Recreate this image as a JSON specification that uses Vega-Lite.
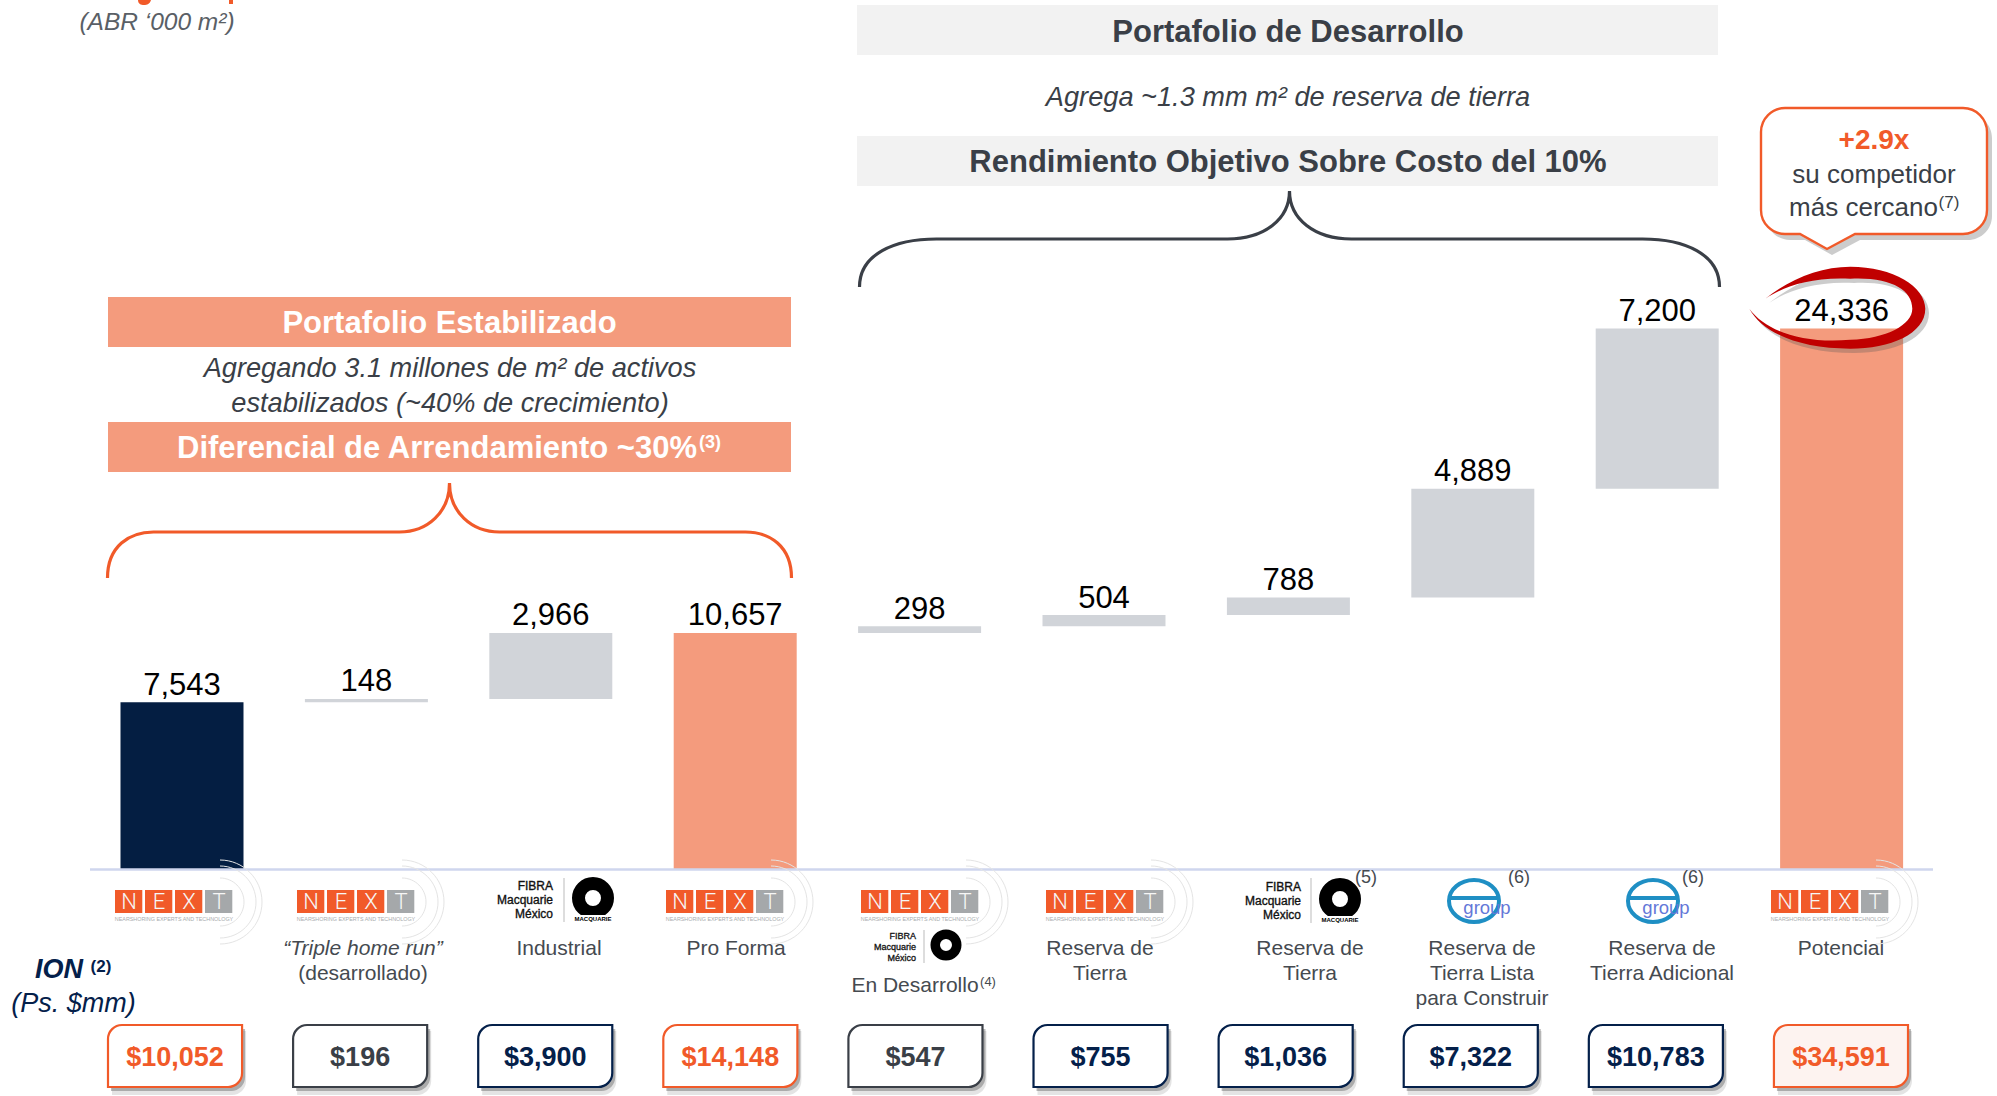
{"$schema":"https://vega.github.io/schema/vega-lite/v6.json","width":1997,"height":1096,"padding":0,"autosize":"none","background":"white",
"config":{"view":{"stroke":null},"axis":{"disable":true},"legend":{"disable":true},"text":{"font":"Liberation Sans","align":"center","baseline":"middle"},
"style":{"w31":{"color":"#ffffff","fontSize":31,"fontWeight":"bold"},"d31":{"color":"#3a3f47","fontSize":31,"fontWeight":"bold"},"i27":{"color":"#3a3f47","fontSize":27.2,"fontStyle":"italic"},"lab":{"color":"#454a50","fontSize":21,"lineHeight":25},"fn":{"color":"#454a50","fontSize":18},"L":{"color":"#f6f6f6","fontSize":22,"font":"Roboto","fontWeight":300},"ns":{"color":"#a8abad","fontSize":5.4},"fm":{"color":"#111111","fontSize":12,"align":"right","lineHeight":14,"stroke":"#111111","strokeWidth":0.35},"fs":{"color":"#111111","fontSize":9,"align":"right","lineHeight":11,"stroke":"#111111","strokeWidth":0.3},"mq":{"color":"#000000","fontSize":6,"fontWeight":"bold"},"gp":{"color":"#6478d8","fontSize":18.5},"ion":{"color":"#04204a","fontStyle":"italic"}}},
"datasets":{"rows":[
{"cat":"Estabilizado","kind":"total","value":7543,"base":0,"top":7543,"ion":10052,"tone":"a"},
{"cat":"Triple home run","kind":"step","value":148,"base":7543,"top":7691,"ion":196,"tone":"b"},
{"cat":"Industrial","kind":"step","value":2966,"base":7691,"top":10657,"ion":3900,"tone":"c"},
{"cat":"Pro Forma","kind":"sum","value":10657,"base":0,"top":10657,"ion":14148,"tone":"a"},
{"cat":"En Desarrollo","kind":"step","value":298,"base":10657,"top":10955,"ion":547,"tone":"b"},
{"cat":"Reserva de Tierra NEXT","kind":"step","value":504,"base":10955,"top":11459,"ion":755,"tone":"c"},
{"cat":"Reserva de Tierra FIBRA","kind":"step","value":788,"base":11459,"top":12247,"ion":1036,"tone":"c"},
{"cat":"Reserva de Tierra Lista para Construir","kind":"step","value":4889,"base":12247,"top":17136,"ion":7322,"tone":"c"},
{"cat":"Reserva de Tierra Adicional","kind":"step","value":7200,"base":17136,"top":24336,"ion":10783,"tone":"c"},
{"cat":"Potencial","kind":"sum","value":24336,"base":0,"top":24336,"ion":34591,"tone":"d"}]},
"resolve":{"scale":{"x":"independent","y":"independent","fill":"independent","color":"independent","stroke":"independent"}},
"layer":[
{"data":{"name":"rows"},"layer":[
{"mark":{"type":"bar"},"encoding":{"x":{"field":"cat","type":"nominal","sort":null,"scale":{"type":"band","range":[120.5,1903.1],"paddingInner":0.333,"paddingOuter":0}},"y":{"field":"top","type":"quantitative","scale":{"domain":[-10157,39101],"range":[1096,0],"nice":false}},"y2":{"field":"base"},"fill":{"field":"kind","type":"nominal","scale":{"domain":["total","step","sum"],"range":["#041e42","#d1d4d9","#f49b7d"]}}}},
{"mark":{"type":"text","fontSize":31,"dy":-16.5,"fill":"#000000"},"encoding":{"x":{"field":"cat","type":"nominal","sort":null},"y":{"field":"top","type":"quantitative"},"text":{"field":"value","type":"quantitative","format":",.0f"}}}
]},
{"data":{"name":"rows"},"layer":[
{"mark":{"type":"bar","fill":"#555555","opacity":0.16,"xOffset":4,"x2Offset":4,"cornerRadiusTopLeft":14,"cornerRadiusBottomRight":14},"encoding":{"x":{"field":"cat","type":"nominal","sort":null,"scale":{"type":"band","range":[108,1908],"paddingInner":0.2757,"paddingOuter":0}},"y":{"datum":1031,"scale":{"domain":[0,1096],"range":[0,1096],"nice":false}},"y2":{"datum":1095}}},
{"mark":{"type":"bar","fill":"#555555","opacity":0.4,"xOffset":3,"x2Offset":3,"cornerRadiusTopLeft":14,"cornerRadiusBottomRight":14},"encoding":{"x":{"field":"cat","type":"nominal","sort":null},"y":{"datum":1029},"y2":{"datum":1091}}},
{"mark":{"type":"bar","strokeWidth":2.2,"cornerRadiusTopLeft":14,"cornerRadiusBottomRight":14},"encoding":{"x":{"field":"cat","type":"nominal","sort":null},"y":{"datum":1025},"y2":{"datum":1087},"fill":{"field":"tone","type":"nominal","scale":{"domain":["a","b","c","d"],"range":["#ffffff","#ffffff","#ffffff","#fdf3f0"]}},"stroke":{"field":"tone","type":"nominal","scale":{"domain":["a","b","c","d"],"range":["#f15a29","#3a3f47","#04204a","#f15a29"]}}}},
{"mark":{"type":"text","fontSize":27,"fontWeight":"bold"},"encoding":{"x":{"field":"cat","type":"nominal","sort":null},"y":{"datum":1058},"text":{"field":"ion","type":"quantitative","format":"$,.0f"},"color":{"field":"tone","type":"nominal","scale":{"domain":["a","b","c","d"],"range":["#f15a29","#3a3f47","#04204a","#f15a29"]}}}}
]},
{"data":{"values":[{}]},"layer":[
{"mark":{"type":"rule","stroke":"#cfd6ee","strokeWidth":2.5},"encoding":{"x":{"datum":90,"scale":{"domain":[0,1997],"range":[0,1997],"nice":false}},"x2":{"datum":1933},"y":{"datum":869.5,"scale":{"domain":[0,1096],"range":[0,1096],"nice":false}}}},
{"mark":{"type":"point","shape":"M-6,0C-6,4 -3,5 0,5C3,5 6,4 7,0ZM85,0H89V4H85Z","size":4,"filled":true,"fill":"#f15a29","stroke":null,"opacity":1},"encoding":{"x":{"datum":144},"y":{"datum":0}}},
{"mark":{"type":"text","text":"(ABR ‘000 m²)","fontSize":24.5,"fontStyle":"italic","fill":"#5a5f66"},"encoding":{"x":{"datum":157},"y":{"datum":23}}},

{"mark":{"type":"rect","fill":"#f2f2f2"},"encoding":{"x":{"datum":857},"x2":{"datum":1718},"y":{"datum":5},"y2":{"datum":55}}},
{"mark":{"type":"rect","fill":"#f2f2f2"},"encoding":{"x":{"datum":857},"x2":{"datum":1718},"y":{"datum":136},"y2":{"datum":186}}},
{"mark":{"type":"text","style":"d31","text":"Portafolio de Desarrollo"},"encoding":{"x":{"datum":1288},"y":{"datum":33}}},
{"mark":{"type":"text","style":"i27","text":"Agrega ~1.3 mm m² de reserva de tierra"},"encoding":{"x":{"datum":1288},"y":{"datum":98}}},
{"mark":{"type":"text","style":"d31","text":"Rendimiento Objetivo Sobre Costo del 10%"},"encoding":{"x":{"datum":1288},"y":{"datum":163}}},
{"mark":{"type":"point","shape":"M-430,48C-430,15 -395,0 -353,0H-62C-25,0 0,-20 0,-48C0,-20 25,0 62,0H353C395,0 430,15 430,48","size":4,"filled":false,"stroke":"#3a3f47","strokeWidth":3.2,"opacity":1},"encoding":{"x":{"datum":1289.5},"y":{"datum":239}}},

{"mark":{"type":"rect","fill":"#f49b7d"},"encoding":{"x":{"datum":108},"x2":{"datum":791},"y":{"datum":297},"y2":{"datum":347}}},
{"mark":{"type":"rect","fill":"#f49b7d"},"encoding":{"x":{"datum":108},"x2":{"datum":791},"y":{"datum":422},"y2":{"datum":472}}},
{"mark":{"type":"text","style":"w31","text":"Portafolio Estabilizado"},"encoding":{"x":{"datum":449.5},"y":{"datum":324}}},
{"mark":{"type":"text","style":"i27","text":"Agregando 3.1 millones de m² de activos"},"encoding":{"x":{"datum":450},"y":{"datum":369}}},
{"mark":{"type":"text","style":"i27","text":"estabilizados (~40% de crecimiento)"},"encoding":{"x":{"datum":450},"y":{"datum":404}}},
{"mark":{"type":"text","style":"w31","text":"Diferencial de Arrendamiento ~30%"},"encoding":{"x":{"datum":437},"y":{"datum":449}}},
{"mark":{"type":"text","text":"(3)","fontSize":18,"fontWeight":"bold","fill":"#ffffff"},"encoding":{"x":{"datum":710},"y":{"datum":443}}},
{"mark":{"type":"point","shape":"M-342,46C-342,14 -320,0 -296,0H-50C-22,0 0,-20 0,-49C0,-20 22,0 50,0H296C320,0 342,14 342,46","size":4,"filled":false,"stroke":"#f15a29","strokeWidth":3.2,"opacity":1},"encoding":{"x":{"datum":449.5},"y":{"datum":532}}},

{"mark":{"type":"point","shape":"M24,0H202A24,24 0 0 1 226,24V102A24,24 0 0 1 202,126H94L66,141L39,126H24A24,24 0 0 1 0,102V24A24,24 0 0 1 24,0Z","size":4,"filled":true,"fill":"#555555","stroke":null,"opacity":0.3},"encoding":{"x":{"datum":1766},"y":{"datum":114}}},
{"mark":{"type":"point","shape":"M24,0H202A24,24 0 0 1 226,24V102A24,24 0 0 1 202,126H94L66,141L39,126H24A24,24 0 0 1 0,102V24A24,24 0 0 1 24,0Z","size":4,"filled":true,"fill":"#ffffff","stroke":"#f15a29","strokeWidth":2.4,"opacity":1},"encoding":{"x":{"datum":1761},"y":{"datum":108}}},
{"mark":{"type":"text","text":"+2.9x","fontSize":28,"fontWeight":"bold","fill":"#f15a29"},"encoding":{"x":{"datum":1874},"y":{"datum":140.5}}},
{"mark":{"type":"text","text":"su competidor","fontSize":26,"fill":"#3a3f47"},"encoding":{"x":{"datum":1874},"y":{"datum":175}}},
{"mark":{"type":"text","text":"más cercano","fontSize":26,"fill":"#3a3f47"},"encoding":{"x":{"datum":1863.5},"y":{"datum":208}}},
{"mark":{"type":"text","text":"(7)","fontSize":17,"fill":"#3a3f47"},"encoding":{"x":{"datum":1949},"y":{"datum":203}}},
{"mark":{"type":"point","shape":"M-68,-8C-43,-28 -13,-40 17,-40C60,-40 92,-20 92,2C92,27 57,42 17,42C-33,42 -70,27 -84,2C-67,25 -30,37 17,33C53,32 79,18 79,2C79,-17 57,-30 17,-28C-23,-30 -50,-20 -68,-8Z","size":4,"filled":true,"fill":"#555555","stroke":null,"opacity":0.3},"encoding":{"x":{"datum":1837},"y":{"datum":311}}},
{"mark":{"type":"point","shape":"M-68,-8C-43,-28 -13,-40 17,-40C60,-40 92,-20 92,2C92,27 57,42 17,42C-33,42 -70,27 -84,2C-67,25 -30,37 17,33C53,32 79,18 79,2C79,-17 57,-30 17,-28C-23,-30 -50,-20 -68,-8Z","size":4,"filled":true,"fill":"#c00000","stroke":null,"opacity":1},"encoding":{"x":{"datum":1833.3},"y":{"datum":306.7}}},

{"mark":{"type":"text","text":"ION","style":"ion","fontSize":27,"fontWeight":"bold"},"encoding":{"x":{"datum":59},"y":{"datum":970}}},
{"mark":{"type":"text","text":"(2)","style":"ion","fontSize":17,"fontWeight":"bold","fontStyle":"normal"},"encoding":{"x":{"datum":101},"y":{"datum":967}}},
{"mark":{"type":"text","text":"(Ps. $mm)","style":"ion","fontSize":27},"encoding":{"x":{"datum":73.5},"y":{"datum":1004}}},

{"mark":{"type":"text","text":"“Triple home run”","style":"lab","fontStyle":"italic"},"encoding":{"x":{"datum":363},"y":{"datum":948.5}}},
{"mark":{"type":"text","text":"(desarrollado)","style":"lab"},"encoding":{"x":{"datum":363},"y":{"datum":973.5}}},
{"mark":{"type":"text","text":"Industrial","style":"lab"},"encoding":{"x":{"datum":559},"y":{"datum":948.5}}},
{"mark":{"type":"text","text":"Pro Forma","style":"lab"},"encoding":{"x":{"datum":736},"y":{"datum":948.5}}},
{"mark":{"type":"text","text":"En Desarrollo","style":"lab"},"encoding":{"x":{"datum":915},"y":{"datum":986}}},
{"mark":{"type":"text","text":"(4)","style":"lab","fontSize":13},"encoding":{"x":{"datum":988},"y":{"datum":982}}},
{"mark":{"type":"text","text":["Reserva de","Tierra"],"style":"lab"},"encoding":{"x":{"datum":1100},"y":{"datum":948.5}}},
{"mark":{"type":"text","text":["Reserva de","Tierra"],"style":"lab"},"encoding":{"x":{"datum":1310},"y":{"datum":948.5}}},
{"mark":{"type":"text","text":["Reserva de","Tierra Lista","para Construir"],"style":"lab"},"encoding":{"x":{"datum":1482},"y":{"datum":948.5}}},
{"mark":{"type":"text","text":["Reserva de","Tierra Adicional"],"style":"lab"},"encoding":{"x":{"datum":1662},"y":{"datum":948.5}}},
{"mark":{"type":"text","text":"Potencial","style":"lab"},"encoding":{"x":{"datum":1841},"y":{"datum":948.5}}},
{"mark":{"type":"text","text":"(5)","style":"fn"},"encoding":{"x":{"datum":1366},"y":{"datum":878}}},
{"mark":{"type":"text","text":"(6)","style":"fn"},"encoding":{"x":{"datum":1519},"y":{"datum":878}}},
{"mark":{"type":"text","text":"(6)","style":"fn"},"encoding":{"x":{"datum":1693},"y":{"datum":878}}},

{"mark":{"type":"text","style":"fm","text":["FIBRA","Macquarie","México"]},"encoding":{"x":{"datum":553},"y":{"datum":886}}},
{"mark":{"type":"rule","stroke":"#bbbbbb","strokeWidth":1},"encoding":{"x":{"datum":564},"y":{"datum":878},"y2":{"datum":922}}},
{"mark":{"type":"point","shape":"M0,-14.5A14.5,14.5 0 1 1 0,14.5A14.5,14.5 0 1 1 0,-14.5Z","size":4,"filled":false,"stroke":"#000000","strokeWidth":13,"opacity":1},"encoding":{"x":{"datum":593},"y":{"datum":898}}},
{"mark":{"type":"rect","fill":"#ffffff"},"encoding":{"x":{"datum":574},"x2":{"datum":612},"y":{"datum":915},"y2":{"datum":923}}},
{"mark":{"type":"text","style":"mq","text":"MACQUARIE"},"encoding":{"x":{"datum":593},"y":{"datum":919}}},
{"mark":{"type":"text","style":"fm","text":["FIBRA","Macquarie","México"]},"encoding":{"x":{"datum":1301},"y":{"datum":887}}},
{"mark":{"type":"rule","stroke":"#bbbbbb","strokeWidth":1},"encoding":{"x":{"datum":1311},"y":{"datum":878},"y2":{"datum":923}}},
{"mark":{"type":"point","shape":"M0,-14.5A14.5,14.5 0 1 1 0,14.5A14.5,14.5 0 1 1 0,-14.5Z","size":4,"filled":false,"stroke":"#000000","strokeWidth":13,"opacity":1},"encoding":{"x":{"datum":1340},"y":{"datum":899}}},
{"mark":{"type":"rect","fill":"#ffffff"},"encoding":{"x":{"datum":1321},"x2":{"datum":1359},"y":{"datum":916},"y2":{"datum":924}}},
{"mark":{"type":"text","style":"mq","text":"MACQUARIE"},"encoding":{"x":{"datum":1340},"y":{"datum":920}}},
{"mark":{"type":"text","style":"fs","text":["FIBRA","Macquarie","México"]},"encoding":{"x":{"datum":916},"y":{"datum":936}}},
{"mark":{"type":"rule","stroke":"#bbbbbb","strokeWidth":1},"encoding":{"x":{"datum":924},"y":{"datum":930},"y2":{"datum":963}}},
{"mark":{"type":"point","shape":"M0,-14.5A14.5,14.5 0 1 1 0,14.5A14.5,14.5 0 1 1 0,-14.5Z","size":2.2,"filled":false,"stroke":"#000000","strokeWidth":9.5,"opacity":1},"encoding":{"x":{"datum":946},"y":{"datum":945}}},

{"mark":{"type":"point","shape":"M-25,0A25,21 0 1 1 25,0A25,21 0 1 1 -25,0ZM-25,-3H25","size":4,"filled":false,"stroke":"#1f8fc4","strokeWidth":4,"opacity":1},"encoding":{"x":{"datum":1474},"y":{"datum":901}}},
{"mark":{"type":"text","style":"gp","text":"group"},"encoding":{"x":{"datum":1487},"y":{"datum":908}}},
{"mark":{"type":"point","shape":"M-25,0A25,21 0 1 1 25,0A25,21 0 1 1 -25,0ZM-25,-3H25","size":4,"filled":false,"stroke":"#1f8fc4","strokeWidth":4,"opacity":1},"encoding":{"x":{"datum":1653},"y":{"datum":901}}},
{"mark":{"type":"text","style":"gp","text":"group"},"encoding":{"x":{"datum":1666},"y":{"datum":908}}},

{"mark":{"type":"point","shape":"M0,0H27.3V23H0ZM30,0H57.3V23H30ZM60,0H87.3V23H60Z","size":4,"filled":true,"fill":"#f15a29","stroke":null,"opacity":1},"encoding":{"x":{"datum":115},"y":{"datum":890}}},
{"mark":{"type":"point","shape":"M90,0H117.3V23H90Z","size":4,"filled":true,"fill":"#a5a8aa","stroke":null,"opacity":1},"encoding":{"x":{"datum":115},"y":{"datum":890}}},
{"mark":{"type":"point","shape":"M105,-30A42,42 0 0 1 105,54M105,-24A36,36 0 0 1 105,48M105,-12A24,24 0 0 1 105,36","size":4,"filled":false,"stroke":"#e4e4e4","strokeWidth":1,"opacity":1},"encoding":{"x":{"datum":115},"y":{"datum":890}}},
{"mark":{"type":"text","style":"L","text":"N"},"encoding":{"x":{"datum":129},"y":{"datum":902}}},
{"mark":{"type":"text","style":"L","text":"E"},"encoding":{"x":{"datum":159},"y":{"datum":902}}},
{"mark":{"type":"text","style":"L","text":"X"},"encoding":{"x":{"datum":189},"y":{"datum":902}}},
{"mark":{"type":"text","style":"L","text":"T"},"encoding":{"x":{"datum":219},"y":{"datum":902}}},
{"mark":{"type":"text","style":"ns","text":"NEARSHORING EXPERTS AND TECHNOLOGY"},"encoding":{"x":{"datum":174},"y":{"datum":919}}},

{"mark":{"type":"point","shape":"M0,0H27.3V23H0ZM30,0H57.3V23H30ZM60,0H87.3V23H60Z","size":4,"filled":true,"fill":"#f15a29","stroke":null,"opacity":1},"encoding":{"x":{"datum":297},"y":{"datum":890}}},
{"mark":{"type":"point","shape":"M90,0H117.3V23H90Z","size":4,"filled":true,"fill":"#a5a8aa","stroke":null,"opacity":1},"encoding":{"x":{"datum":297},"y":{"datum":890}}},
{"mark":{"type":"point","shape":"M105,-30A42,42 0 0 1 105,54M105,-24A36,36 0 0 1 105,48M105,-12A24,24 0 0 1 105,36","size":4,"filled":false,"stroke":"#e4e4e4","strokeWidth":1,"opacity":1},"encoding":{"x":{"datum":297},"y":{"datum":890}}},
{"mark":{"type":"text","style":"L","text":"N"},"encoding":{"x":{"datum":311},"y":{"datum":902}}},
{"mark":{"type":"text","style":"L","text":"E"},"encoding":{"x":{"datum":341},"y":{"datum":902}}},
{"mark":{"type":"text","style":"L","text":"X"},"encoding":{"x":{"datum":371},"y":{"datum":902}}},
{"mark":{"type":"text","style":"L","text":"T"},"encoding":{"x":{"datum":401},"y":{"datum":902}}},
{"mark":{"type":"text","style":"ns","text":"NEARSHORING EXPERTS AND TECHNOLOGY"},"encoding":{"x":{"datum":356},"y":{"datum":919}}},

{"mark":{"type":"point","shape":"M0,0H27.3V23H0ZM30,0H57.3V23H30ZM60,0H87.3V23H60Z","size":4,"filled":true,"fill":"#f15a29","stroke":null,"opacity":1},"encoding":{"x":{"datum":666},"y":{"datum":890}}},
{"mark":{"type":"point","shape":"M90,0H117.3V23H90Z","size":4,"filled":true,"fill":"#a5a8aa","stroke":null,"opacity":1},"encoding":{"x":{"datum":666},"y":{"datum":890}}},
{"mark":{"type":"point","shape":"M105,-30A42,42 0 0 1 105,54M105,-24A36,36 0 0 1 105,48M105,-12A24,24 0 0 1 105,36","size":4,"filled":false,"stroke":"#e4e4e4","strokeWidth":1,"opacity":1},"encoding":{"x":{"datum":666},"y":{"datum":890}}},
{"mark":{"type":"text","style":"L","text":"N"},"encoding":{"x":{"datum":680},"y":{"datum":902}}},
{"mark":{"type":"text","style":"L","text":"E"},"encoding":{"x":{"datum":710},"y":{"datum":902}}},
{"mark":{"type":"text","style":"L","text":"X"},"encoding":{"x":{"datum":740},"y":{"datum":902}}},
{"mark":{"type":"text","style":"L","text":"T"},"encoding":{"x":{"datum":770},"y":{"datum":902}}},
{"mark":{"type":"text","style":"ns","text":"NEARSHORING EXPERTS AND TECHNOLOGY"},"encoding":{"x":{"datum":725},"y":{"datum":919}}},

{"mark":{"type":"point","shape":"M0,0H27.3V23H0ZM30,0H57.3V23H30ZM60,0H87.3V23H60Z","size":4,"filled":true,"fill":"#f15a29","stroke":null,"opacity":1},"encoding":{"x":{"datum":861},"y":{"datum":890}}},
{"mark":{"type":"point","shape":"M90,0H117.3V23H90Z","size":4,"filled":true,"fill":"#a5a8aa","stroke":null,"opacity":1},"encoding":{"x":{"datum":861},"y":{"datum":890}}},
{"mark":{"type":"point","shape":"M105,-30A42,42 0 0 1 105,54M105,-24A36,36 0 0 1 105,48M105,-12A24,24 0 0 1 105,36","size":4,"filled":false,"stroke":"#e4e4e4","strokeWidth":1,"opacity":1},"encoding":{"x":{"datum":861},"y":{"datum":890}}},
{"mark":{"type":"text","style":"L","text":"N"},"encoding":{"x":{"datum":875},"y":{"datum":902}}},
{"mark":{"type":"text","style":"L","text":"E"},"encoding":{"x":{"datum":905},"y":{"datum":902}}},
{"mark":{"type":"text","style":"L","text":"X"},"encoding":{"x":{"datum":935},"y":{"datum":902}}},
{"mark":{"type":"text","style":"L","text":"T"},"encoding":{"x":{"datum":965},"y":{"datum":902}}},
{"mark":{"type":"text","style":"ns","text":"NEARSHORING EXPERTS AND TECHNOLOGY"},"encoding":{"x":{"datum":920},"y":{"datum":919}}},

{"mark":{"type":"point","shape":"M0,0H27.3V23H0ZM30,0H57.3V23H30ZM60,0H87.3V23H60Z","size":4,"filled":true,"fill":"#f15a29","stroke":null,"opacity":1},"encoding":{"x":{"datum":1046},"y":{"datum":890}}},
{"mark":{"type":"point","shape":"M90,0H117.3V23H90Z","size":4,"filled":true,"fill":"#a5a8aa","stroke":null,"opacity":1},"encoding":{"x":{"datum":1046},"y":{"datum":890}}},
{"mark":{"type":"point","shape":"M105,-30A42,42 0 0 1 105,54M105,-24A36,36 0 0 1 105,48M105,-12A24,24 0 0 1 105,36","size":4,"filled":false,"stroke":"#e4e4e4","strokeWidth":1,"opacity":1},"encoding":{"x":{"datum":1046},"y":{"datum":890}}},
{"mark":{"type":"text","style":"L","text":"N"},"encoding":{"x":{"datum":1060},"y":{"datum":902}}},
{"mark":{"type":"text","style":"L","text":"E"},"encoding":{"x":{"datum":1090},"y":{"datum":902}}},
{"mark":{"type":"text","style":"L","text":"X"},"encoding":{"x":{"datum":1120},"y":{"datum":902}}},
{"mark":{"type":"text","style":"L","text":"T"},"encoding":{"x":{"datum":1150},"y":{"datum":902}}},
{"mark":{"type":"text","style":"ns","text":"NEARSHORING EXPERTS AND TECHNOLOGY"},"encoding":{"x":{"datum":1105},"y":{"datum":919}}},

{"mark":{"type":"point","shape":"M0,0H27.3V23H0ZM30,0H57.3V23H30ZM60,0H87.3V23H60Z","size":4,"filled":true,"fill":"#f15a29","stroke":null,"opacity":1},"encoding":{"x":{"datum":1771},"y":{"datum":890}}},
{"mark":{"type":"point","shape":"M90,0H117.3V23H90Z","size":4,"filled":true,"fill":"#a5a8aa","stroke":null,"opacity":1},"encoding":{"x":{"datum":1771},"y":{"datum":890}}},
{"mark":{"type":"point","shape":"M105,-30A42,42 0 0 1 105,54M105,-24A36,36 0 0 1 105,48M105,-12A24,24 0 0 1 105,36","size":4,"filled":false,"stroke":"#e4e4e4","strokeWidth":1,"opacity":1},"encoding":{"x":{"datum":1771},"y":{"datum":890}}},
{"mark":{"type":"text","style":"L","text":"N"},"encoding":{"x":{"datum":1785},"y":{"datum":902}}},
{"mark":{"type":"text","style":"L","text":"E"},"encoding":{"x":{"datum":1815},"y":{"datum":902}}},
{"mark":{"type":"text","style":"L","text":"X"},"encoding":{"x":{"datum":1845},"y":{"datum":902}}},
{"mark":{"type":"text","style":"L","text":"T"},"encoding":{"x":{"datum":1875},"y":{"datum":902}}},
{"mark":{"type":"text","style":"ns","text":"NEARSHORING EXPERTS AND TECHNOLOGY"},"encoding":{"x":{"datum":1830},"y":{"datum":919}}}
]}
]}
